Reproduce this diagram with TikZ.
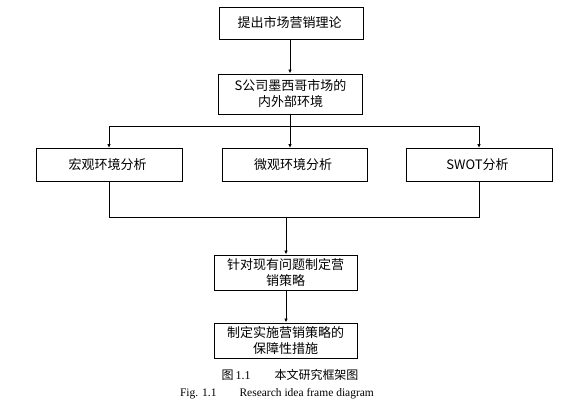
\documentclass[tikz,border=0pt]{standalone}
\usepackage{fontspec}
\setmainfont{Liberation Serif}
\newfontfamily\cjk{Noto Sans CJK SC}
\usetikzlibrary{arrows.meta,positioning}

\begin{document}
\begin{tikzpicture}[x=1pt, y=-1pt,
    box/.style={
        rectangle,
        draw,
        line width=1pt,
        inner sep=1pt,
        align=center,
        minimum width=144pt,
        font=\cjk\fontsize{13}{16}\selectfont
    },
    caption/.style={
        inner sep=0pt,
        font=\fontsize{11.5}{13}\selectfont
    },
    link/.style={line width=1pt},
    flow/.style={-{Latex[length=4pt, width=3.5pt]}, line width=1pt}
]
    \useasboundingbox (0,0) rectangle (566,408);

    \node (tichu) [box, minimum height=32pt] at (291, 23)
    {
        提出市场营销理论
    };



    \node (huanjing) [box, minimum height=40pt] at (290.5, 94)
    {
        S公司墨西哥市场的\\内外部环境
    };




    \node (hongguan) [box, minimum width=146pt, minimum height=33pt] at (109, 165)
    {
        宏观环境分析
    };
    \node (weiguan) [box, minimum width=145pt, minimum height=33pt] at (294.5, 165)
    {
        微观环境分析
    };
    \node (swot) [box, minimum width=146pt, minimum height=33pt] at (479, 165)
    {
        SWOT分析
    };




    \node (celue) [box, minimum width=143pt, minimum height=35pt] at (285.5, 272.5)
    {
        针对现有问题制定营\\销策略
    };


    \node (baozhang) [box, minimum width=143pt, minimum height=35pt] at (285.5, 340.5)
    {
        制定实施营销策略的\\保障性措施
    };



    \node (tuming) [caption, font=\fontsize{12}{14}\selectfont] at (290, 375)
    {
        {\cjk 图}\,1.1\qquad{\cjk 本文研究框架图}
    };
    \node (figname) [caption] at (277, 394)
    {
        Fig. 1.1\qquad Research idea frame diagram
    };



    \coordinate (fenzhi) at (290, 126);
    \coordinate (huizong) at (286, 217);

    \draw[flow] (tichu.south -| fenzhi) to (huanjing.north -| fenzhi);
    \draw[link] (huanjing.south -| fenzhi) to (fenzhi);
    \draw[flow] (fenzhi) -| (hongguan.north);
    \draw[flow] (fenzhi) -| (swot.north);
    \draw[flow] (fenzhi) to (weiguan.north -| fenzhi);
    \draw[link] (hongguan.south) |- (huizong);
    \draw[link] (swot.south) |- (huizong);
    \draw[flow] (huizong) to (celue.north -| huizong);
    \draw[flow] (celue.south -| huizong) to (baozhang.north -| huizong);


\end{tikzpicture}
\end{document}
